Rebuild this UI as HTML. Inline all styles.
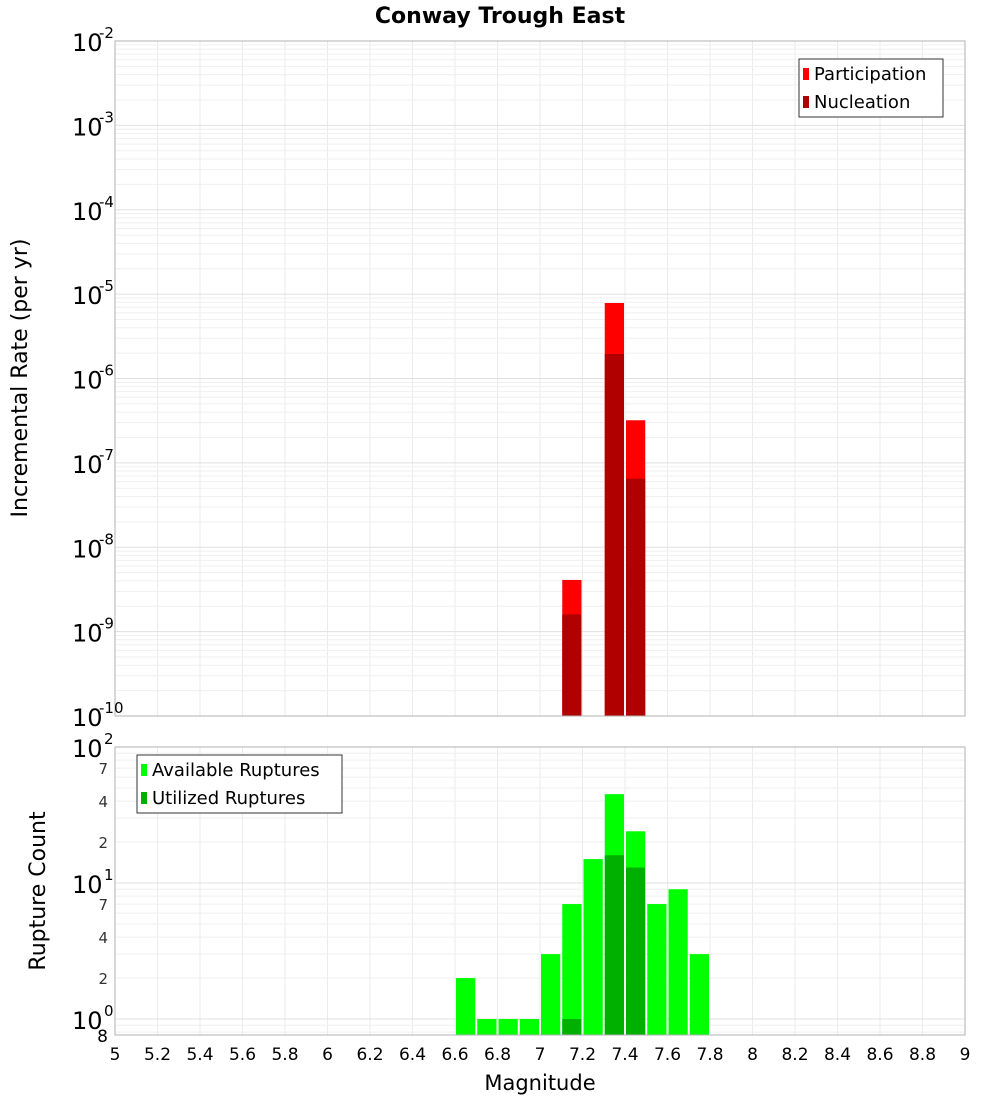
<!DOCTYPE html>
<html><head><meta charset="utf-8"><style>
body{margin:0;background:#fff;}
svg text{font-family:"DejaVu Sans","Liberation Sans",sans-serif;}
</style></head><body>
<svg id="c" width="1000" height="1100" xmlns="http://www.w3.org/2000/svg"></svg>
<script>
const bins=[6.6,6.7,6.8,6.9,7.0,7.1,7.2,7.3,7.4,7.5,7.6,7.7];
const topBins=[7.1,7.3,7.4];
const participation=[4.1e-9,7.85e-6,3.2e-7];
const nucleation=[1.6e-9,1.95e-6,6.5e-8];
const available=[2,1,1,1,3,7,15,45,24,7,9,3];
const utilizedBins=[7.1,7.3,7.4];
const utilized=[1,16,13];
const xTicks=[5,5.2,5.4,5.6,5.8,6,6.2,6.4,6.6,6.8,7,7.2,7.4,7.6,7.8,8,8.2,8.4,8.6,8.8,9];

const svg=document.getElementById('c');const NS='http://www.w3.org/2000/svg';
function el(t,a,p){const e=document.createElementNS(NS,t);for(const k in a)e.setAttribute(k,a[k]);(p||svg).appendChild(e);return e;}
const L=115,R=965;
const x=v=>L+(v-5)/4*(R-L);
const T0=41,T1=716; const yt=v=>T0+(-2-Math.log10(v))/8*(T1-T0);
const B0=747,B1=1035; const yb=v=>B0+(2-Math.log10(v))*136;

// grids
function grids(y0,y1,yf,decs,name){
  const g=el('g',{});
  for(let i=1;i<20;i++){const xx=L+i*(R-L)/20;el('line',{x1:xx,x2:xx,y1:y0,y2:y1,stroke:'#ebebeb'},g);}
  for(const d of decs)for(let m=1;m<10;m++){const yy=yf(m*Math.pow(10,d));if(yy>y0&&yy<y1)el('line',{x1:L,x2:R,y1:yy,y2:yy,stroke:m==1?'#e0e0e0':'#efefef'},g);}
}
grids(T0,T1,yt,[-10,-9,-8,-7,-6,-5,-4,-3],'top-grid');
grids(B0,B1,yb,[-1,0,1],'bottom-grid');

// top bars
topBins.forEach((b,i)=>{
  const r=el('rect',{x:x(b)+1,width:x(b+0.1)-x(b)-2,y:yt(participation[i]),height:T1-yt(participation[i]),fill:'#ff0000'});
  
  const n=el('rect',{x:x(b)+1,width:x(b+0.1)-x(b)-2,y:yt(nucleation[i]),height:T1-yt(nucleation[i]),fill:'#b00000'});
  
});
bins.forEach((b,i)=>{
  const r=el('rect',{x:x(b)+1,width:x(b+0.1)-x(b)-2,y:yb(available[i]),height:B1-yb(available[i]),fill:'#00ff00'});
  
});
utilizedBins.forEach((b,i)=>{
  const r=el('rect',{x:x(b)+1,width:x(b+0.1)-x(b)-2,y:yb(utilized[i]),height:B1-yb(utilized[i]),fill:'#00b000'});
  
});
el('rect',{x:L,y:T0,width:R-L,height:T1-T0,fill:'none',stroke:'#b0b0b0'});
el('rect',{x:L,y:B0,width:R-L,height:B1-B0,fill:'none',stroke:'#b0b0b0'});

// top y labels
for(let d=-10;d<=-2;d++){
  const yy=yt(Math.pow(10,d));
  const t=el('text',{x:72,y:yy+10,'font-size':24,fill:'#000'});t.textContent='10';
  
  const s=el('text',{x:99,y:yy-3,'font-size':15,fill:'#000'});s.textContent=String(d);
}
// bottom y labels
[[100,'10','2'],[10,'10','1'],[1,'10','0']].forEach(a=>{
  const yy=yb(a[0]);const t=el('text',{x:72,y:yy+10,'font-size':24});t.textContent=a[1];
  
  const s=el('text',{x:104,y:yy-3,'font-size':15});s.textContent=a[2];
});
[70,40,20,7,4,2].forEach(v=>{const t=el('text',{x:108,y:yb(v)+6,'font-size':15,'text-anchor':'end',fill:'#333'});t.textContent=String(v).charAt(0);});
{const t=el('text',{x:108,y:1042,'font-size':17,'text-anchor':'end'});t.textContent='8';}
// x ticks
xTicks.forEach(v=>{const t=el('text',{x:x(v),y:1060,'font-size':17,'text-anchor':'middle'});t.textContent=String(v);
  });
// titles
let t=el('text',{x:500,y:23,'font-size':22,'font-weight':'bold','text-anchor':'middle'});t.textContent='Conway Trough East';
t=el('text',{x:540,y:1090,'font-size':21,'text-anchor':'middle'});t.textContent='Magnitude';
t=el('text',{x:0,y:0,'font-size':22,'text-anchor':'middle',transform:'translate(27,378) rotate(-90)'});t.textContent='Incremental Rate (per yr)';
t=el('text',{x:0,y:0,'font-size':22,'text-anchor':'middle',transform:'translate(45,891) rotate(-90)'});t.textContent='Rupture Count';
// legends
function legend(x0,y0,w,items,name){
  const g=el('g',{});
  el('rect',{x:x0,y:y0,width:w,height:58,fill:'#fff',stroke:'#333'},g);
  items.forEach((it,i)=>{el('rect',{x:x0+4,y:y0+9+i*28,width:6,height:12,fill:it[1]},g);
    const tt=el('text',{x:x0+15,y:y0+21+i*28,'font-size':18},g);tt.textContent=it[0];});
}
legend(799,59,144,[['Participation','#ff0000'],['Nucleation','#b00000']],'top-legend');
legend(137,755,205,[['Available Ruptures','#00ff00'],['Utilized Ruptures','#00b000']],'bottom-legend');
</script>
</body></html>
